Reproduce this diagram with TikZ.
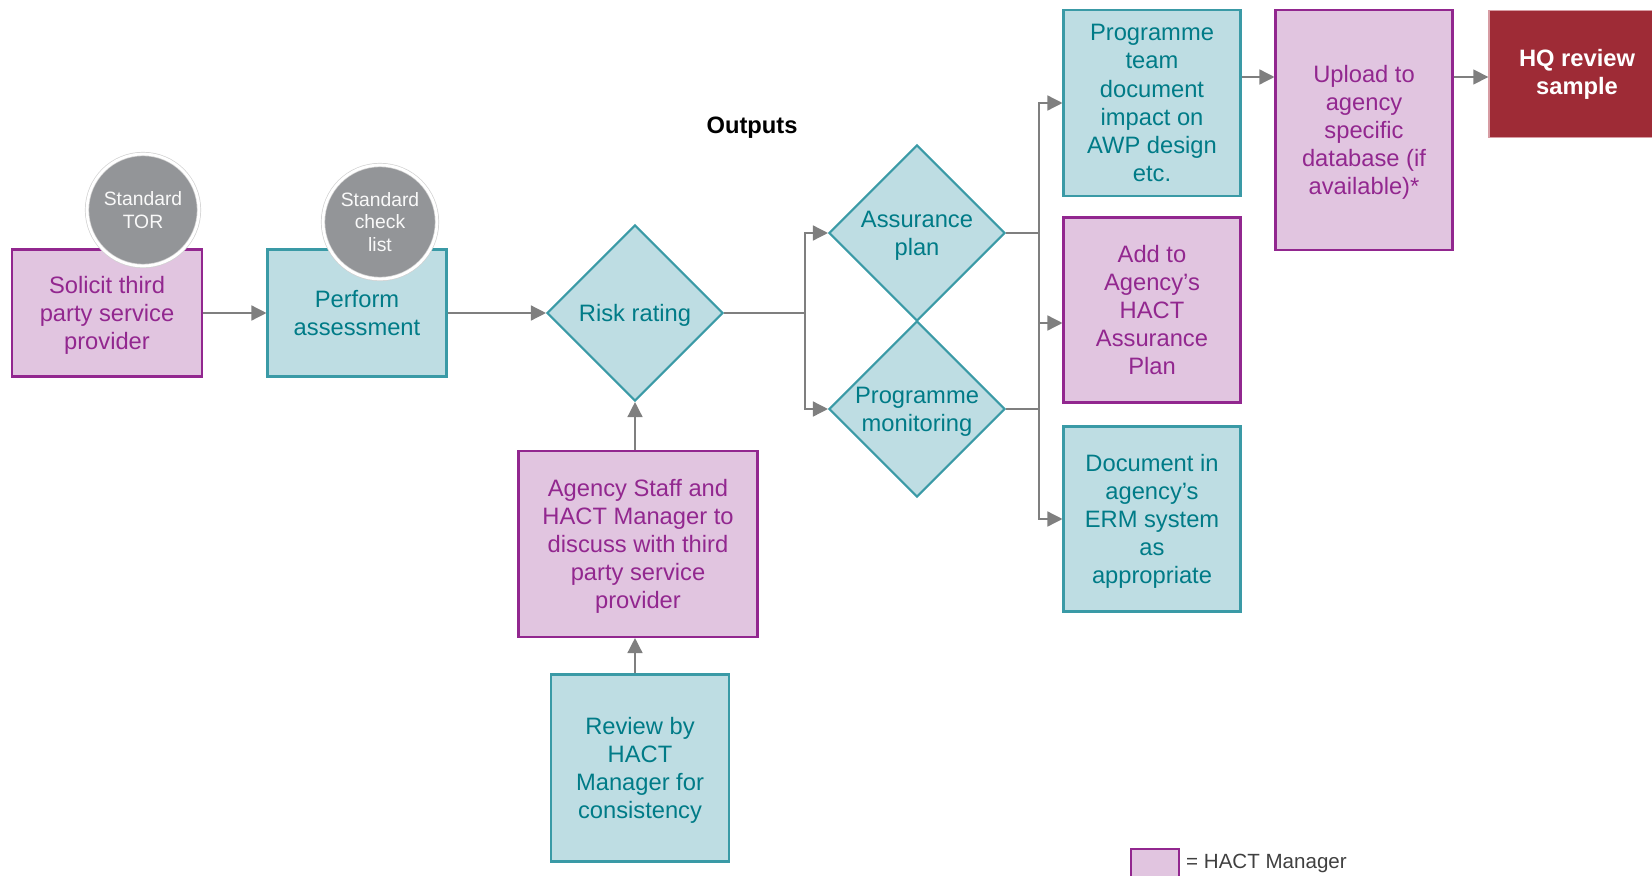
\documentclass[tikz,border=0pt]{standalone}
\usepackage{fontspec}
\setmainfont{Liberation Sans}
\usetikzlibrary{shapes.geometric,arrows.meta}
\definecolor{pinkfill}{HTML}{E1C5E0}
\definecolor{pinkline}{HTML}{92278F}
\definecolor{tealfill}{HTML}{BEDDE3}
\definecolor{tealline}{HTML}{3A9AA6}
\definecolor{tealtext}{HTML}{007B87}
\definecolor{hqfill}{HTML}{9E2B36}
\definecolor{hqline}{HTML}{D79CA3}
\definecolor{discgray}{HTML}{939598}
\definecolor{arrgray}{HTML}{7F7F7F}
\definecolor{keygray}{HTML}{404040}
\tikzstyle{pinkbox}=[shape=rectangle, draw=pinkline, line width=1.2pt, fill=pinkfill, text=pinkline, align=center, inner sep=0, text depth=0pt, font=\fontsize{13.5}{16}\selectfont]
\tikzstyle{tealbox}=[shape=rectangle, draw=tealline, line width=1.2pt, fill=tealfill, text=tealtext, align=center, inner sep=0, text depth=0pt, font=\fontsize{13.5}{16}\selectfont]
\tikzstyle{diam}=[shape=diamond, draw=tealline, line width=1.2pt, fill=tealfill, text=tealtext, align=center, inner sep=0, text depth=0pt, minimum size=3.52cm, font=\fontsize{13.5}{16}\selectfont]
\tikzstyle{disc}=[shape=circle, fill=discgray, draw=gray!35, line width=0.4pt, double=white, double distance=1.6pt, text=white!95!gray, align=center, inner sep=0, font=\fontsize{11}{13}\selectfont]
\tikzstyle{hqbox}=[shape=rectangle, draw=hqline, line width=0.8pt, fill=hqfill, text=white, align=center, inner sep=0, font=\bfseries\fontsize{13.5}{16}\selectfont]
\tikzstyle{link}=[draw=arrgray, line width=0.8pt]
\tikzstyle{arr}=[link, -{Triangle[length=0.3cm,width=0.3cm]}]

\begin{document}
\begin{tikzpicture}[x=0.02cm, y=-0.02cm]
\useasboundingbox (0,0) rectangle (1652,875);
\clip (0,0) rectangle (1652,875);
\node[pinkbox, minimum width=3.79cm, minimum height=2.54cm] (solicit) at (107,313) {Solicit third\\party service\\provider};
\node[tealbox, minimum width=3.58cm, minimum height=2.54cm] (perform) at (357,313) {Perform\\assessment};
\node[disc, minimum size=2.24cm] (tor) at (143,210) {Standard\\TOR};
\node[disc, minimum size=2.28cm] (chk) at (380,222) {Standard\\check\\list};
\node[diam] (risk) at (635,313) {Risk rating};
\node[diam] (assur) at (917,233) {Assurance\\plan};
\node[diam] (mon) at (917,409) {Programme\\monitoring};
\node[pinkbox, minimum width=4.78cm, minimum height=3.72cm] (agency) at (638,544) {Agency Staff and\\HACT Manager to\\discuss with third\\party service\\provider};
\node[tealbox, minimum width=3.56cm, minimum height=3.74cm] (review) at (640,768) {Review by\\HACT\\Manager for\\consistency};
\node[tealbox, minimum width=3.54cm, minimum height=3.73cm] (team) at (1152,103) {Programme\\team\\document\\impact on\\AWP design\\etc.};
\node[pinkbox, minimum width=3.54cm, minimum height=3.70cm] (add) at (1152,310) {Add to\\Agency’s\\HACT\\Assurance\\Plan};
\node[tealbox, minimum width=3.54cm, minimum height=3.70cm] (doc) at (1152,519) {Document in\\agency’s\\ERM system\\as\\appropriate};
\node[pinkbox, minimum width=3.54cm, minimum height=4.79cm] (upload) at (1364,130) {Upload to\\agency\\specific\\database (if\\available)*};
\node[hqbox, minimum width=3.52cm, minimum height=2.54cm] (hq) at (1577,74) {HQ review\\sample};
\node[font=\bfseries\fontsize{13.5}{16}\selectfont] (outputs) at (752,128) {Outputs};
\node[pinkbox, minimum width=0.96cm, minimum height=0.8cm] (key) at (1155,869) {};
\node[anchor=base west, text=keygray, font=\fontsize{11.7}{14}\selectfont] (keytext) at (1180,868) {= HACT Manager};
\coordinate (split) at (805,313);
\coordinate (bus) at (1039,323);
\draw[arr] (solicit) -- (perform);
\draw[arr] (perform) -- (risk);
\draw[link] (risk.east) -- (split);
\draw[arr] (split) |- (assur.west);
\draw[arr] (split) |- (mon.west);
\draw[arr] (agency.north -| risk) -- (risk.south);
\draw[arr] (review.north -| risk) -- (agency.south -| risk);
\draw[link] (assur.east) -| (bus);
\draw[link] (mon.east) -| (bus);
\draw[arr] (bus) |- (team.west);
\draw[arr] (bus) -- (bus -| add.west);
\draw[arr] (bus) |- (doc.west);
\draw[arr] (team.east |- 0,77) -- (upload.west |- 0,77);
\draw[arr] (upload.east |- 0,77) -- (hq.west |- 0,77);
\end{tikzpicture}
\end{document}
